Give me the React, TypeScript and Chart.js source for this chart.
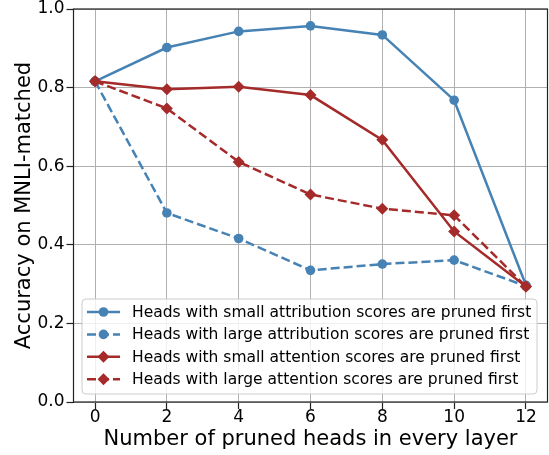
import React, { useEffect, useRef } from 'react';
import { Chart, registerables } from 'chart.js';

Chart.register(...registerables);

const xValues = [0, 2, 4, 6, 8, 10, 12];
const smallAttribution = [0.816, 0.902, 0.943, 0.957, 0.934, 0.768, 0.297];
const largeAttribution = [0.816, 0.481, 0.416, 0.335, 0.351, 0.361, 0.295];
const smallAttention = [0.816, 0.796, 0.802, 0.781, 0.667, 0.434, 0.294];
const largeAttention = [0.816, 0.747, 0.611, 0.528, 0.492, 0.475, 0.294];

const seriesLabels = [
  'Heads with small attribution scores are pruned first',
  'Heads with large attribution scores are pruned first',
  'Heads with small attention scores are pruned first',
  'Heads with large attention scores are pruned first',
];
const xTicks = [0, 2, 4, 6, 8, 10, 12];
const yTicks = [0, 0.2, 0.4, 0.6, 0.8, 1.0];
const xTitle = 'Number of pruned heads in every layer';
const yTitle = 'Accuracy on MNLI-matched';

const BLUE = '#4682b4';
const RED = '#a52a2a';
const FONT = '"DejaVu Sans", sans-serif';
const DASH = [9, 4];

const toPts = (ys: number[]) => ys.map((y, i) => ({ x: xValues[i], y }));

function drawMarker(ctx: CanvasRenderingContext2D, style: string, x: number, y: number, r: number, color: string) {
  ctx.save();
  ctx.fillStyle = color;
  ctx.beginPath();
  if (style === 'circle') {
    ctx.arc(x, y, r, 0, Math.PI * 2);
  } else {
    ctx.moveTo(x, y - r);
    ctx.lineTo(x + r, y);
    ctx.lineTo(x, y + r);
    ctx.lineTo(x - r, y);
    ctx.closePath();
  }
  ctx.fill();
  ctx.restore();
}

const framePlugin = {
  id: 'frame',
  afterDatasetsDraw(chart: any) {
    const { ctx, chartArea } = chart;
    const { left, right, top, bottom } = chartArea;
    ctx.save();
    ctx.strokeStyle = '#222';
    ctx.lineWidth = 1.2;
    ctx.strokeRect(left, top, right - left, bottom - top);
    ctx.restore();

    // legend
    const bx = left + 8.5;
    const by = bottom - 103;
    const bw = 455;
    const bh = 95;
    ctx.save();
    ctx.beginPath();
    ctx.roundRect(bx, by, bw, bh, 4);
    ctx.fillStyle = 'rgba(255,255,255,0.8)';
    ctx.fill();
    ctx.strokeStyle = '#cccccc';
    ctx.lineWidth = 1;
    ctx.stroke();
    chart.data.datasets.forEach((ds: any, i: number) => {
      const cy = by + 13 + i * 22.4;
      ctx.save();
      ctx.strokeStyle = ds.borderColor;
      ctx.lineWidth = ds.borderWidth;
      ctx.setLineDash(ds.borderDash || []);
      ctx.beginPath();
      ctx.moveTo(bx + 5, cy);
      ctx.lineTo(bx + 38, cy);
      ctx.stroke();
      ctx.restore();
      drawMarker(ctx, ds.pointStyle, bx + 21.5, cy, ds.pointRadius, ds.borderColor);
      ctx.fillStyle = '#000';
      ctx.font = `15.5px ${FONT}`;
      ctx.textBaseline = 'middle';
      ctx.textAlign = 'left';
      ctx.fillText(ds.label, bx + 50, cy + 1);
    });
    ctx.restore();
  },
};

export default function App() {
  const ref = useRef<HTMLCanvasElement>(null);
  useEffect(() => {
    document.body.style.margin = '0';
    const canvas = ref.current!;
    const mk = (label: string, data: number[], color: string, dashed: boolean, style: string, r: number, order: number) => ({
      label,
      data: toPts(data),
      borderColor: color,
      backgroundColor: color,
      borderWidth: 2.5,
      borderDash: dashed ? DASH : [],
      pointStyle: style === 'circle' ? 'circle' : 'rectRot',
      pointRadius: r,
      pointBorderWidth: 0,
      pointBackgroundColor: color,
      tension: 0,
      clip: 8,
      order,
    });
    const datasets: any[] = [
      mk(seriesLabels[0], smallAttribution, BLUE, false, 'circle', 4.8, 4),
      mk(seriesLabels[1], largeAttribution, BLUE, true, 'circle', 4.8, 3),
      mk(seriesLabels[2], smallAttention, RED, false, 'diamond', 6, 2),
      mk(seriesLabels[3], largeAttention, RED, true, 'diamond', 6, 1),
    ];
    const chart = new Chart(canvas, {
      type: 'line',
      data: { datasets },
      plugins: [framePlugin as any],
      options: {
        responsive: false,
        animation: false,
        layout: { autoPadding: false, padding: { top: 9, right: 1.5, left: 0, bottom: 0 } },
        plugins: { legend: { display: false }, tooltip: { enabled: false } },
        scales: {
          x: {
            type: 'linear',
            min: -0.6,
            max: 12.6,
            afterBuildTicks: (scale: any) => {
              scale.ticks = xTicks.map((v) => ({ value: v }));
            },
            afterFit: (scale: any) => {
              scale.height = 53;
              scale.paddingRight = 0;
              scale.paddingLeft = 0;
            },
            border: { display: false },
            grid: { color: '#b0b0b0', lineWidth: 1, tickColor: '#222', tickLength: 7, tickWidth: 1.2 },
            ticks: {
              color: '#000',
              padding: 0,
              font: { family: FONT, size: 17, lineHeight: 1 },
              callback: (v: any) => String(v),
              maxRotation: 0,
              autoSkip: false,
            },
            title: {
              display: true,
              text: xTitle,
              color: '#000',
              font: { family: FONT, size: 21, lineHeight: 1.2 },
              padding: { top: 0, bottom: 2.4 },
            },
          },
          y: {
            type: 'linear',
            min: 0,
            max: 1,
            afterBuildTicks: (scale: any) => {
              scale.ticks = yTicks.map((v) => ({ value: v }));
            },
            afterFit: (scale: any) => {
              scale.width = 73.5;
              scale.paddingTop = 0;
              scale.paddingBottom = 0;
            },
            border: { display: false },
            grid: { color: '#b0b0b0', lineWidth: 1, tickColor: '#222', tickLength: 7, tickWidth: 1.2 },
            ticks: {
              color: '#000',
              padding: 2,
              font: { family: FONT, size: 17 },
              callback: (v: any) => Number(v).toFixed(1),
              autoSkip: false,
            },
            title: {
              display: true,
              text: yTitle,
              color: '#000',
              font: { family: FONT, size: 21, lineHeight: 1.2 },
              padding: { top: 12, bottom: 0 },
            },
          },
        },
      },
    });
    return () => chart.destroy();
  }, []);
  return <canvas ref={ref} width={549} height={455} style={{ display: 'block' }} />;
}
